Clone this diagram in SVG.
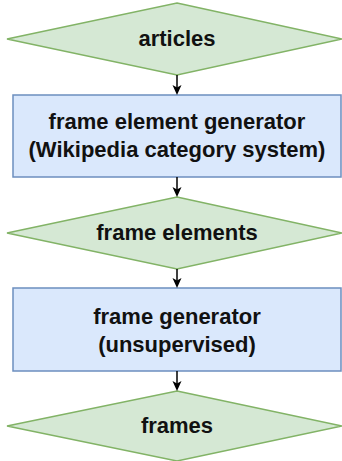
<svg xmlns="http://www.w3.org/2000/svg" width="342" height="461" viewBox="0 0 342 461">
<style>
.dia{fill:#d5e8d4;stroke:#82b366;stroke-width:1.5}
.box{fill:#dae8fc;stroke:#6c8ebf;stroke-width:1.5}
.t{font-family:"Liberation Sans",Arial,sans-serif;font-size:22px;font-weight:bold;fill:#111;text-anchor:middle}
.edge{stroke:#000;stroke-width:1.5;fill:none;marker-end:url(#arr)}
</style>
<defs>
<marker id="arr" markerUnits="userSpaceOnUse" viewBox="0 0 10 10" refX="7" refY="5" markerWidth="10" markerHeight="10" orient="auto">
<path d="M0,0.5 L10,5 L0,9.5 L2.5,5 Z" fill="#000"/>
</marker>
</defs>
<rect width="342" height="461" fill="#fff"/>
<g id="articles">
<polygon class="dia" points="177,3 342,39 177,75 7,39"/>
<text class="t" x="177" y="46">articles</text>
</g>
<g id="frame-element-generator">
<rect class="box" x="13" y="95" width="328" height="82"/>
<text class="t" x="177" y="129">frame element generator</text>
<text class="t" x="177" y="157">(Wikipedia category system)</text>
</g>
<g id="frame-elements">
<polygon class="dia" points="177,197 342,233 177,269 7,233"/>
<text class="t" x="177" y="240">frame elements</text>
</g>
<g id="frame-generator">
<rect class="box" x="13" y="288" width="328" height="83"/>
<text class="t" x="177" y="323.5">frame generator</text>
<text class="t" x="177" y="352">(unsupervised)</text>
</g>
<g id="frames">
<polygon class="dia" points="177,391 342,426 177,461 7,426"/>
<text class="t" x="177" y="433">frames</text>
</g>
<g id="connectors">
<line class="edge" x1="177" y1="75" x2="177" y2="92"/>
<line class="edge" x1="177" y1="177" x2="177" y2="194"/>
<line class="edge" x1="177" y1="269" x2="177" y2="285"/>
<line class="edge" x1="177" y1="371" x2="177" y2="388"/>
</g>
</svg>
